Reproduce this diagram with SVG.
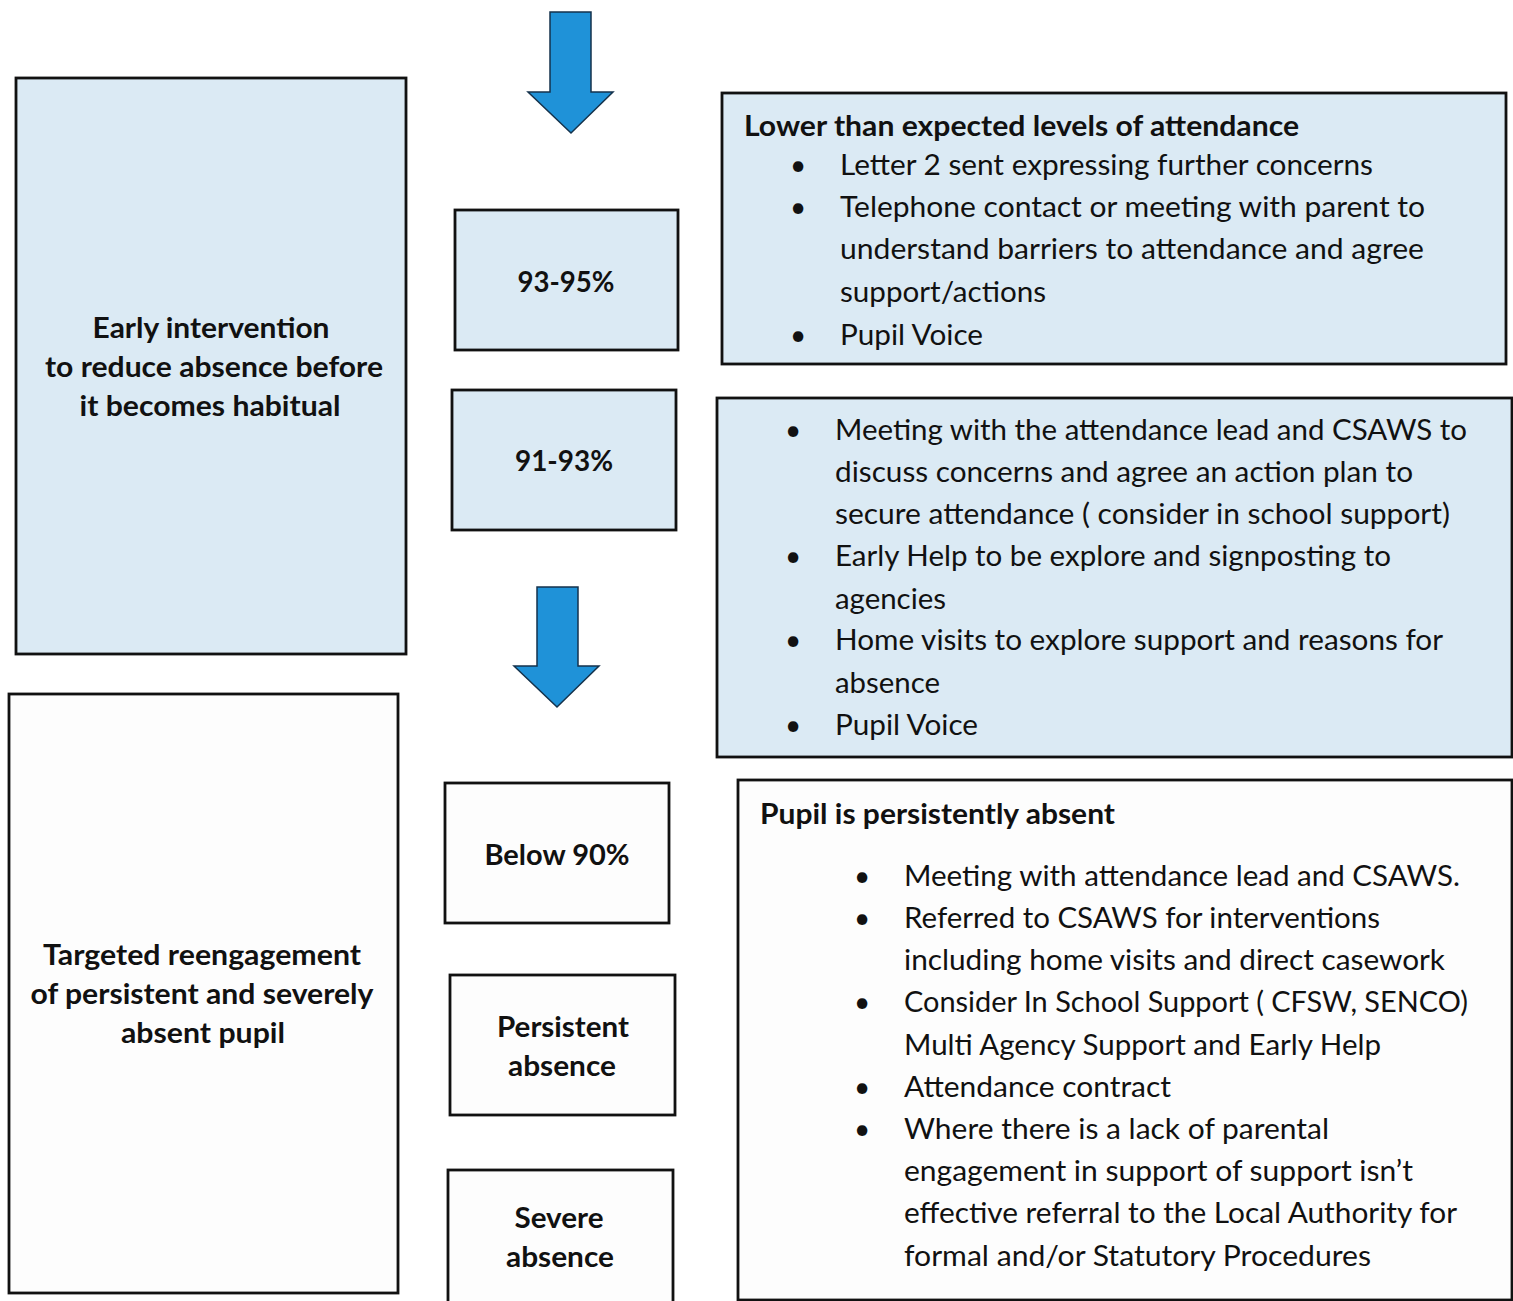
<svg xmlns="http://www.w3.org/2000/svg" width="1513" height="1301" viewBox="0 0 1513 1301">
<style>
.box{stroke:#111;stroke-width:2.8}
.blue{fill:#dbeaf4}
.white{fill:#fdfdfd}
.t{font-family:Lato,"Open Sans","Liberation Sans",sans-serif;font-size:28px;fill:#111}
.b{font-weight:bold}
.c{text-anchor:middle}
.arrow{fill:#1f92d8;stroke:#14324c;stroke-width:1.5}
</style>
<rect width="1513" height="1301" fill="#ffffff"/>
<g id="connectors">
<polygon class="arrow" points="550,12 591,12 591,92 613,92 571,133 528,92 550,92"/>
<polygon class="arrow" points="537,587 578,587 578,666 599,666 557,707 514,666 537,666"/>
</g>
<g id="early-intervention">
<rect class="box blue" x="16" y="78" width="390" height="576"/>
<text class="t b c" x="211" y="338" textLength="237" lengthAdjust="spacingAndGlyphs">Early intervention</text>
<text class="t b c" x="214" y="377" textLength="338" lengthAdjust="spacingAndGlyphs">to reduce absence before</text>
<text class="t b c" x="210" y="416" textLength="261" lengthAdjust="spacingAndGlyphs">it becomes habitual</text>
</g>
<g id="targeted-reengagement">
<rect class="box white" x="9" y="694" width="389" height="599"/>
<text class="t b c" x="202" y="965" textLength="318" lengthAdjust="spacingAndGlyphs">Targeted reengagement</text>
<text class="t b c" x="202" y="1004" textLength="343" lengthAdjust="spacingAndGlyphs">of persistent and severely</text>
<text class="t b c" x="203" y="1043" textLength="164" lengthAdjust="spacingAndGlyphs">absent pupil</text>
</g>
<g id="band-93-95">
<rect class="box blue" x="455" y="210" width="223" height="140"/>
<text class="t b c" x="566" y="292" textLength="97" lengthAdjust="spacingAndGlyphs">93-95%</text>
</g>
<g id="band-91-93">
<rect class="box blue" x="452" y="390" width="224" height="140"/>
<text class="t b c" x="564" y="471" textLength="98" lengthAdjust="spacingAndGlyphs">91-93%</text>
</g>
<g id="below-90">
<rect class="box white" x="445" y="783" width="224" height="140"/>
<text class="t b c" x="557" y="865" textLength="145" lengthAdjust="spacingAndGlyphs">Below 90%</text>
</g>
<g id="persistent-absence">
<rect class="box white" x="450" y="975" width="225" height="140"/>
<text class="t b c" x="563" y="1037" textLength="132" lengthAdjust="spacingAndGlyphs">Persistent</text>
<text class="t b c" x="562" y="1076" textLength="108" lengthAdjust="spacingAndGlyphs">absence</text>
</g>
<g id="severe-absence">
<rect class="box white" x="448" y="1170" width="225" height="140"/>
<text class="t b c" x="559" y="1228" textLength="89" lengthAdjust="spacingAndGlyphs">Severe</text>
<text class="t b c" x="560" y="1267" textLength="108" lengthAdjust="spacingAndGlyphs">absence</text>
</g>
<g id="lower-attendance">
<rect class="box blue" x="722" y="93" width="784" height="271"/>
<text class="t b" x="744" y="136" textLength="555" lengthAdjust="spacingAndGlyphs">Lower than expected levels of attendance</text>
<text class="t" x="790" y="175">•</text>
<text class="t" x="840" y="175" textLength="533" lengthAdjust="spacingAndGlyphs">Letter 2 sent expressing further concerns</text>
<text class="t" x="790" y="217">•</text>
<text class="t" x="840" y="217" textLength="585" lengthAdjust="spacingAndGlyphs">Telephone contact or meeting with parent to</text>
<text class="t" x="840" y="259" textLength="584" lengthAdjust="spacingAndGlyphs">understand barriers to attendance and agree</text>
<text class="t" x="840" y="302" textLength="206" lengthAdjust="spacingAndGlyphs">support/actions</text>
<text class="t" x="790" y="345">•</text>
<text class="t" x="840" y="345" textLength="143" lengthAdjust="spacingAndGlyphs">Pupil Voice</text>
</g>
<g id="early-actions">
<rect class="box blue" x="717" y="398" width="795" height="359"/>
<text class="t" x="785" y="440">•</text>
<text class="t" x="835" y="440" textLength="632" lengthAdjust="spacingAndGlyphs">Meeting with the attendance lead and CSAWS to</text>
<text class="t" x="835" y="482" textLength="578" lengthAdjust="spacingAndGlyphs">discuss concerns and agree an action plan to</text>
<text class="t" x="835" y="524" textLength="615" lengthAdjust="spacingAndGlyphs">secure attendance ( consider in school support)</text>
<text class="t" x="785" y="566">•</text>
<text class="t" x="835" y="566" textLength="556" lengthAdjust="spacingAndGlyphs">Early Help to be explore and signposting to</text>
<text class="t" x="835" y="609" textLength="111" lengthAdjust="spacingAndGlyphs">agencies</text>
<text class="t" x="785" y="650">•</text>
<text class="t" x="835" y="650" textLength="608" lengthAdjust="spacingAndGlyphs">Home visits to explore support and reasons for</text>
<text class="t" x="835" y="693" textLength="105" lengthAdjust="spacingAndGlyphs">absence</text>
<text class="t" x="785" y="735">•</text>
<text class="t" x="835" y="735" textLength="143" lengthAdjust="spacingAndGlyphs">Pupil Voice</text>
</g>
<g id="persistently-absent">
<rect class="box white" x="738" y="780" width="774" height="520"/>
<text class="t b" x="760" y="824" textLength="355" lengthAdjust="spacingAndGlyphs">Pupil is persistently absent</text>
<text class="t" x="854" y="886">•</text>
<text class="t" x="904" y="886" textLength="556" lengthAdjust="spacingAndGlyphs">Meeting with attendance lead and CSAWS.</text>
<text class="t" x="854" y="928">•</text>
<text class="t" x="904" y="928" textLength="476" lengthAdjust="spacingAndGlyphs">Referred to CSAWS for interventions</text>
<text class="t" x="904" y="970" textLength="541" lengthAdjust="spacingAndGlyphs">including home visits and direct casework</text>
<text class="t" x="854" y="1012">•</text>
<text class="t" x="904" y="1012" textLength="564" lengthAdjust="spacingAndGlyphs">Consider In School Support ( CFSW, SENCO)</text>
<text class="t" x="904" y="1055" textLength="477" lengthAdjust="spacingAndGlyphs">Multi Agency Support and Early Help</text>
<text class="t" x="854" y="1097">•</text>
<text class="t" x="904" y="1097" textLength="267" lengthAdjust="spacingAndGlyphs">Attendance contract</text>
<text class="t" x="854" y="1139">•</text>
<text class="t" x="904" y="1139" textLength="425" lengthAdjust="spacingAndGlyphs">Where there is a lack of parental</text>
<text class="t" x="904" y="1181" textLength="509" lengthAdjust="spacingAndGlyphs">engagement in support of support isn’t</text>
<text class="t" x="904" y="1223" textLength="553" lengthAdjust="spacingAndGlyphs">effective referral to the Local Authority for</text>
<text class="t" x="904" y="1266" textLength="467" lengthAdjust="spacingAndGlyphs">formal and/or Statutory Procedures</text>
</g>
</svg>
